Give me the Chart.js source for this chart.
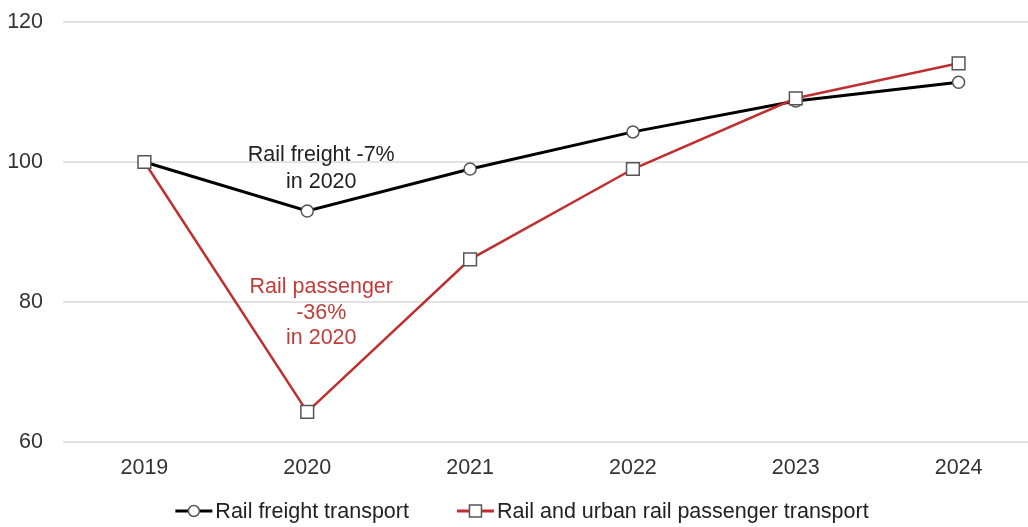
<!DOCTYPE html>
<html>
<head>
<meta charset="utf-8">
<script src="https://cdn.jsdelivr.net/npm/chart.js@4/dist/chart.umd.min.js"></script>
<style>
    html, body { margin: 0; padding: 0; background: #fff; overflow: hidden; }
    #wrap { width: 1040px; height: 527px; }
</style>
</head>
<body>
<div id="wrap"><canvas id="railChart" width="1040" height="527"></canvas></div>
<script>
// Index values, 2019 = 100
const years = ['2019', '2020', '2021', '2022', '2023', '2024'];
const freight = [100, 93, 99, 104.3, 108.7, 111.4];
const passenger = [100, 64.3, 86.1, 99, 109.1, 114.1];
const yTicks = [60, 80, 100, 120];

const RED = '#bf2f2f';
const FONT = '"Liberation Sans", Arial, sans-serif';
const FONT_SIZE = 21.5;

// draws the little line + marker used in the legend
function drawIcon(ctx, x, y, color, shape) {
    ctx.save();
    ctx.strokeStyle = color;
    ctx.lineWidth = 3;
    ctx.beginPath();
    ctx.moveTo(x, y);
    ctx.lineTo(x + 37, y);
    ctx.stroke();
    ctx.fillStyle = '#fff';
    ctx.strokeStyle = '#555';
    ctx.lineWidth = 1.5;
    ctx.beginPath();
    if (shape === 'circle') {
        ctx.arc(x + 18.5, y, 5.5, 0, Math.PI * 2);
    } else {
        ctx.rect(x + 12.5, y - 6, 12, 12);
    }
    ctx.fill();
    ctx.stroke();
    ctx.restore();
}

// legend drawn by hand so the spacing matches
const legendPlugin = {
    id: 'lineLegend',
    afterDraw(chart) {
        const ctx = chart.ctx;
        const items = [
            { text: chart.data.datasets[1].label, color: '#000', shape: 'circle' },
            { text: chart.data.datasets[0].label, color: RED, shape: 'rect' }
        ];
        ctx.save();
        ctx.font = FONT_SIZE + 'px ' + FONT;
        ctx.textBaseline = 'middle';
        ctx.textAlign = 'left';
        const iconW = 37, gapIcon = 3, gapItem = 48;
        let total = 0;
        items.forEach((it, i) => {
            it.w = ctx.measureText(it.text).width;
            total += iconW + gapIcon + it.w + (i ? gapItem : 0);
        });
        let x = 522 - total / 2;
        const y = 511;
        items.forEach(it => {
            drawIcon(ctx, x, y, it.color, it.shape);
            x += iconW + gapIcon;
            ctx.fillStyle = '#222';
            ctx.fillText(it.text, x, y + 1);
            x += it.w + gapItem;
        });
        ctx.restore();
    }
};

// text notes next to the 2020 points
const notesPlugin = {
    id: 'notes',
    afterDraw(chart) {
        const ctx = chart.ctx;
        const x = chart.scales.x.getPixelForValue(1) + 14;
        const y = chart.scales.y;
        ctx.save();
        ctx.font = FONT_SIZE + 'px ' + FONT;
        ctx.textAlign = 'center';
        ctx.textBaseline = 'middle';
        ctx.fillStyle = '#222';
        ctx.fillText('Rail freight -7%', x, y.getPixelForValue(101));
        ctx.fillText('in 2020', x, y.getPixelForValue(97.15));
        ctx.fillStyle = '#c23b3b';
        ctx.fillText('Rail passenger', x, y.getPixelForValue(82.15));
        ctx.fillText('-36%', x, y.getPixelForValue(78.45));
        ctx.fillText('in 2020', x, y.getPixelForValue(74.85));
        ctx.restore();
    }
};

new Chart(document.getElementById('railChart'), {
    type: 'line',
    data: {
        labels: years,
        datasets: [
            {
                label: 'Rail and urban rail passenger transport',
                data: passenger,
                borderColor: RED,
                borderWidth: 2.5,
                pointStyle: 'rect',
                pointRadius: 9,
                pointBackgroundColor: '#fff',
                pointBorderColor: '#555',
                pointBorderWidth: 1.5,
                tension: 0
            },
            {
                label: 'Rail freight transport',
                data: freight,
                borderColor: '#000',
                borderWidth: 3,
                pointStyle: 'circle',
                pointRadius: 6,
                pointBackgroundColor: '#fff',
                pointBorderColor: '#555',
                pointBorderWidth: 1.5,
                tension: 0
            }
        ]
    },
    options: {
        responsive: false,
        animation: false,
        layout: { autoPadding: false, padding: { top: 22, left: 0, right: 0, bottom: 40 } },
        scales: {
            x: {
                offset: true,
                grid: { display: false },
                border: { display: false },
                ticks: { color: '#333', font: { size: FONT_SIZE, family: FONT }, padding: 5 },
                afterFit: function(scale) { scale.height = 45; }
            },
            y: {
                min: 60,
                max: 120,
                afterBuildTicks: function(scale) {
                    scale.ticks = yTicks.map(v => ({ value: v }));
                },
                // invisible tick marks push the labels left without adding top padding
                grid: { color: '#e2e2e2', lineWidth: 2, drawTicks: true, tickLength: 20, tickColor: 'rgba(0,0,0,0)' },
                border: { display: false },
                ticks: { color: '#333', font: { size: FONT_SIZE, family: FONT }, padding: 0 },
                afterFit: function(scale) { scale.width = 63; }
            }
        },
        plugins: {
            tooltip: { enabled: false },
            legend: { display: false }
        }
    },
    plugins: [notesPlugin, legendPlugin]
});
</script>
</body>
</html>
